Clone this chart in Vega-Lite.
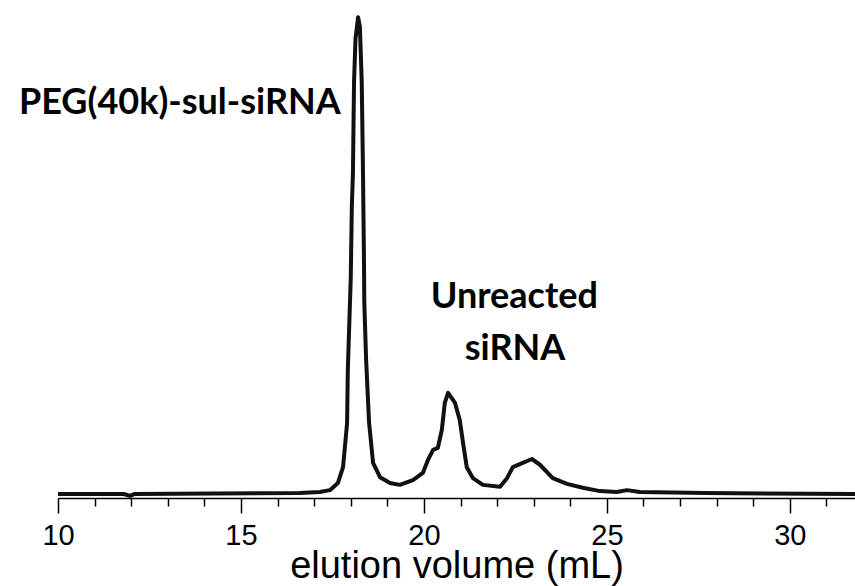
{
  "$schema": "https://vega.github.io/schema/vega-lite/v6.json",
  "autosize": {"type": "none"},
  "width": 797,
  "height": 498,
  "padding": {"left": 58, "top": 0, "right": 0, "bottom": 88},
  "background": "white",
  "config": {"view": {"stroke": null}},
  "datasets": {
    "trace": [
      {"volume": 10.0, "signal": 0.0},
      {"volume": 11.8, "signal": 0.0},
      {"volume": 11.97, "signal": -0.004},
      {"volume": 12.1, "signal": 0.0},
      {"volume": 16.6, "signal": 0.002},
      {"volume": 17.16, "signal": 0.004},
      {"volume": 17.43, "signal": 0.008},
      {"volume": 17.65, "signal": 0.023},
      {"volume": 17.79, "signal": 0.056},
      {"volume": 17.9, "signal": 0.148},
      {"volume": 17.92, "signal": 0.259},
      {"volume": 18.0, "signal": 0.45},
      {"volume": 18.03, "signal": 0.6},
      {"volume": 18.06, "signal": 0.67},
      {"volume": 18.09, "signal": 0.86},
      {"volume": 18.13, "signal": 0.95},
      {"volume": 18.2, "signal": 0.995},
      {"volume": 18.25, "signal": 0.975},
      {"volume": 18.3, "signal": 0.86},
      {"volume": 18.33, "signal": 0.7},
      {"volume": 18.36, "signal": 0.5},
      {"volume": 18.37, "signal": 0.4},
      {"volume": 18.42, "signal": 0.28},
      {"volume": 18.5, "signal": 0.15},
      {"volume": 18.61, "signal": 0.065},
      {"volume": 18.8, "signal": 0.035},
      {"volume": 19.07, "signal": 0.023},
      {"volume": 19.34, "signal": 0.019},
      {"volume": 19.7, "signal": 0.029},
      {"volume": 19.97, "signal": 0.044},
      {"volume": 20.11, "signal": 0.071},
      {"volume": 20.25, "signal": 0.092},
      {"volume": 20.38, "signal": 0.096},
      {"volume": 20.49, "signal": 0.134},
      {"volume": 20.57, "signal": 0.19},
      {"volume": 20.66, "signal": 0.211},
      {"volume": 20.85, "signal": 0.19},
      {"volume": 20.98, "signal": 0.154},
      {"volume": 21.07, "signal": 0.106},
      {"volume": 21.17, "signal": 0.056},
      {"volume": 21.34, "signal": 0.033},
      {"volume": 21.61, "signal": 0.019},
      {"volume": 22.08, "signal": 0.015},
      {"volume": 22.27, "signal": 0.033},
      {"volume": 22.43, "signal": 0.056},
      {"volume": 22.7, "signal": 0.065},
      {"volume": 22.95, "signal": 0.073},
      {"volume": 23.17, "signal": 0.061},
      {"volume": 23.52, "signal": 0.033},
      {"volume": 23.91, "signal": 0.021},
      {"volume": 24.34, "signal": 0.013},
      {"volume": 24.81, "signal": 0.006},
      {"volume": 25.27, "signal": 0.004},
      {"volume": 25.55, "signal": 0.008},
      {"volume": 25.9, "signal": 0.004},
      {"volume": 27.68, "signal": 0.002},
      {"volume": 31.78, "signal": 0.0}
    ],
    "labels": [
      {"label": "PEG(40k)-sul-siRNA", "volume": 13.33, "signal": 0.793},
      {"label": "Unreacted", "volume": 22.47, "signal": 0.388},
      {"label": "siRNA", "volume": 22.49, "signal": 0.28}
    ]
  },
  "encoding": {
    "x": {
      "field": "volume",
      "type": "quantitative",
      "scale": {"domain": [10, 31.78], "nice": false, "zero": false},
      "axis": {
        "title": "elution volume (mL)",
        "values": [10, 11, 12, 13, 14, 15, 16, 17, 18, 19, 20, 21, 22, 23, 24, 25, 26, 27, 28, 29, 30, 31],
        "labelExpr": "indexof([10, 15, 20, 25, 30], datum.value) >= 0 ? datum.label : ''",
        "tickSize": {"condition": {"test": "indexof([10, 15, 20, 25, 30], datum.value) >= 0", "value": 15}, "value": 8},
        "tickColor": "#000000",
        "tickWidth": 1.5,
        "domainColor": "#000000",
        "domainWidth": 1.5,
        "grid": false,
        "labelFont": "Liberation Sans",
        "labelFontSize": 29,
        "labelColor": "#000000",
        "labelPadding": 8,
        "labelFlush": false,
        "labelOverlap": false,
        "titleFont": "Liberation Sans",
        "titleFontSize": 38,
        "titleFontWeight": "normal",
        "titleColor": "#000000",
        "titlePadding": -3
      }
    },
    "y": {
      "field": "signal",
      "type": "quantitative",
      "scale": {"domain": [-0.0084, 1.031], "nice": false, "zero": false},
      "axis": null
    }
  },
  "layer": [
    {
      "data": {"name": "trace"},
      "mark": {"type": "line", "color": "#111111", "strokeWidth": 4, "strokeJoin": "round", "clip": true}
    },
    {
      "data": {"name": "labels"},
      "mark": {"type": "text", "font": "Lato", "fontWeight": "bold", "fontSize": 36, "baseline": "alphabetic", "align": "center", "color": "#000000"},
      "encoding": {
        "text": {"field": "label"}
      }
    }
  ]
}
